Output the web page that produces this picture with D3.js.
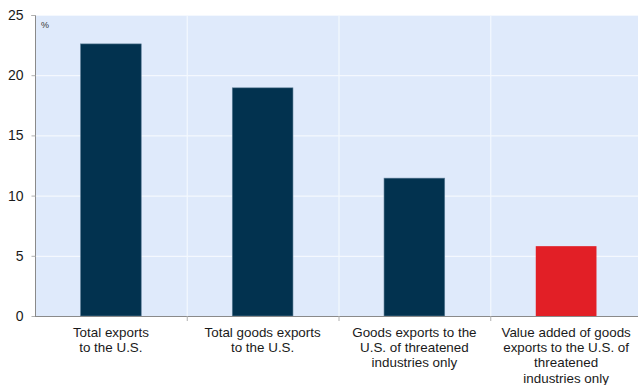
<!DOCTYPE html>
<html>
<head>
<meta charset="utf-8">
<script src="https://cdn.jsdelivr.net/npm/d3@7"></script>
<style>
  html, body { margin: 0; padding: 0; background: #fff; }
  svg { display: block; font-family: "Liberation Sans", Arial, sans-serif; }
</style>
</head>
<body>
<svg id="chart" width="638" height="385"></svg>
<script>
// Category labels (one line per array entry)
const categories = [
  ["Total exports", "to the U.S."],
  ["Total goods exports", "to the U.S."],
  ["Goods exports to the", "U.S. of threatened", "industries only"],
  ["Value added of goods", "exports to the U.S. of", "threatened", "industries only"]
];
const values = [22.6, 18.95, 11.45, 5.8];
const barColors = ["#02324f", "#02324f", "#02324f", "#e21f26"];
const yTicks = [0, 5, 10, 15, 20, 25];

const svg = d3.select("#chart");
const margin = { left: 35, top: 15, right: -4, bottom: 69 };
const W = 638, H = 385;

const x = d3.scaleBand()
  .domain(d3.range(categories.length))
  .range([margin.left, W - margin.right])
  .paddingInner(0).paddingOuter(0);

const y = d3.scaleLinear().domain([0, 25]).range([H - margin.bottom, margin.top]);

// plot background
svg.append("rect")
  .attr("x", margin.left).attr("y", margin.top)
  .attr("width", W - margin.right - margin.left)
  .attr("height", y(0) - margin.top)
  .attr("fill", "#dfeafb");

// horizontal grid
svg.append("g").selectAll("line").data(yTicks.filter(d => d > 0)).join("line")
  .attr("x1", margin.left).attr("x2", W)
  .attr("y1", d => y(d) + 0.5).attr("y2", d => y(d) + 0.5)
  .attr("stroke", "#f4f8fe").attr("stroke-width", 1.2);

// vertical grid at category boundaries
const bounds = d3.range(1, categories.length).map(i => x(i));
svg.append("g").selectAll("line").data(bounds).join("line")
  .attr("x1", d => d + 0.5).attr("x2", d => d + 0.5)
  .attr("y1", margin.top).attr("y2", y(0))
  .attr("stroke", "#f4f8fe").attr("stroke-width", 1.2);

// bars
const bw = x.bandwidth() * 0.4;
svg.append("g").selectAll("rect").data(values).join("rect")
  .attr("x", (d, i) => x(i) + (x.bandwidth() - bw) / 2)
  .attr("y", d => y(d))
  .attr("width", bw)
  .attr("height", d => y(0) - y(d))
  .attr("fill", (d, i) => barColors[i])
  .attr("stroke", (d, i) => i < 3 ? "#5f7f98" : "none")
  .attr("stroke-width", 0.6);

// y axis
const yAxis = d3.axisLeft(y).tickValues(yTicks).tickSize(4).tickPadding(8).tickFormat(d3.format("d"));
const gy = svg.append("g").attr("transform", `translate(${margin.left + 0.5},0)`).call(yAxis);
gy.select(".domain").attr("stroke", "#8a8a8a").attr("d", `M-4,${y(25)+0.5}H0V${y(0)+0.5}`);
gy.selectAll(".tick line").attr("stroke", "#b0b0b0");
gy.selectAll(".tick text").attr("font-size", 14).attr("fill", "#1a1a1a")
  .attr("font-family", "Liberation Sans, Arial, sans-serif");

// x axis line and boundary ticks
svg.append("line")
  .attr("x1", margin.left).attr("x2", W)
  .attr("y1", y(0) + 0.5).attr("y2", y(0) + 0.5)
  .attr("stroke", "#8a8a8a");
svg.append("g").selectAll("line").data(bounds).join("line")
  .attr("x1", d => d + 0.5).attr("x2", d => d + 0.5)
  .attr("y1", y(0)).attr("y2", y(0) + 5)
  .attr("stroke", "#b0b0b0");

// category labels
const lbl = svg.append("g").selectAll("text").data(categories).join("text")
  .attr("text-anchor", "middle")
  .attr("font-size", 13.4)
  .attr("fill", "#1a1a1a");
lbl.each(function(lines, i) {
  d3.select(this).selectAll("tspan").data(lines).join("tspan")
    .attr("x", x(i) + x.bandwidth() / 2)
    .attr("y", (d, j) => y(0) + 20.5 + j * 15.4)
    .text(d => d);
});

// unit label
svg.append("text")
  .attr("x", margin.left + 6).attr("y", margin.top + 13)
  .attr("font-size", 9).attr("fill", "#333")
  .text("%");
</script>
</body>
</html>
